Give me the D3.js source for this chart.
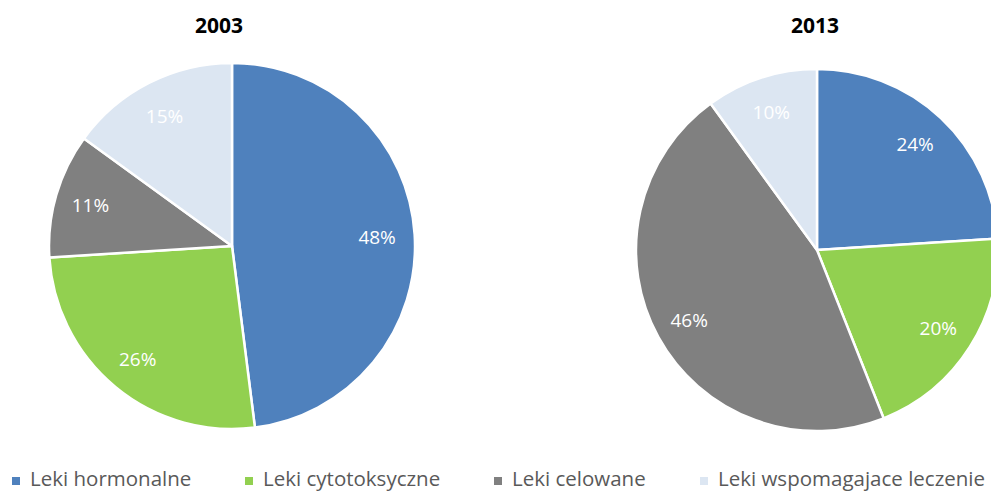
<!DOCTYPE html>
<html>
<head>
<meta charset="utf-8">
<script src="https://cdn.jsdelivr.net/npm/d3@7/dist/d3.min.js"></script>
<style>
  html, body { margin: 0; padding: 0; background: #fff; }
  svg { display: block; }
</style>
</head>
<body>
<svg id="chart" width="991" height="492"></svg>
<script>
// Categories of medicines and their share of the market in each year
const categories = ["Leki hormonalne", "Leki cytotoksyczne", "Leki celowane", "Leki wspomagajace leczenie"];
const colors = ["#4f81bd", "#92d050", "#808080", "#dce6f2"];
const years = ["2003", "2013"];
const values2003 = [48, 26, 11, 15];
const values2013 = [24, 20, 46, 10];

const svg = d3.select("#chart");
const font = "'Open Sans', 'Liberation Sans', sans-serif";

const pies = [
  { year: years[0], values: values2003, cx: 232, cy: 246, r: 183, titleX: 219 },
  { year: years[1], values: values2013, cx: 817, cy: 250, r: 181, titleX: 815 }
];

const pie = d3.pie().sort(null).value(d => d).startAngle(0).endAngle(2 * Math.PI);

pies.forEach(p => {
  const arc = d3.arc().innerRadius(0).outerRadius(p.r);
  const labelArc = d3.arc().innerRadius(p.r * 0.8).outerRadius(p.r * 0.8);
  const g = svg.append("g").attr("transform", `translate(${p.cx},${p.cy})`);
  const arcs = pie(p.values);

  g.selectAll("path")
    .data(arcs)
    .join("path")
    .attr("d", arc)
    .attr("fill", (d, i) => colors[i])
    .attr("stroke", "#fff")
    .attr("stroke-width", 2.5)
    .attr("stroke-linejoin", "round");

  g.selectAll("text")
    .data(arcs)
    .join("text")
    .attr("x", d => labelArc.centroid(d)[0] - 1)
    .attr("y", d => labelArc.centroid(d)[1])
    .attr("text-anchor", "middle")
    .attr("dominant-baseline", "central")
    .attr("font-family", font)
    .attr("font-size", 19)
    .attr("fill", "#fff")
    .text(d => d.data + "%");

  svg.append("text")
    .attr("x", p.titleX)
    .attr("y", 33)
    .attr("text-anchor", "middle")
    .attr("font-family", font)
    .attr("font-weight", "bold")
    .attr("font-size", 21)
    .attr("fill", "#000")
    .text(p.year);
});

// Legend along the bottom edge
const legendX = [12, 245, 494, 700];
const legend = svg.append("g");
categories.forEach((c, i) => {
  legend.append("rect")
    .attr("x", legendX[i])
    .attr("y", 477)
    .attr("width", 8)
    .attr("height", 8)
    .attr("fill", colors[i]);
  legend.append("text")
    .attr("x", legendX[i] + 18)
    .attr("y", 486)
    .attr("font-family", font)
    .attr("font-size", 20.5)
    .attr("fill", "#595959")
    .text(c);
});
</script>
</body>
</html>
